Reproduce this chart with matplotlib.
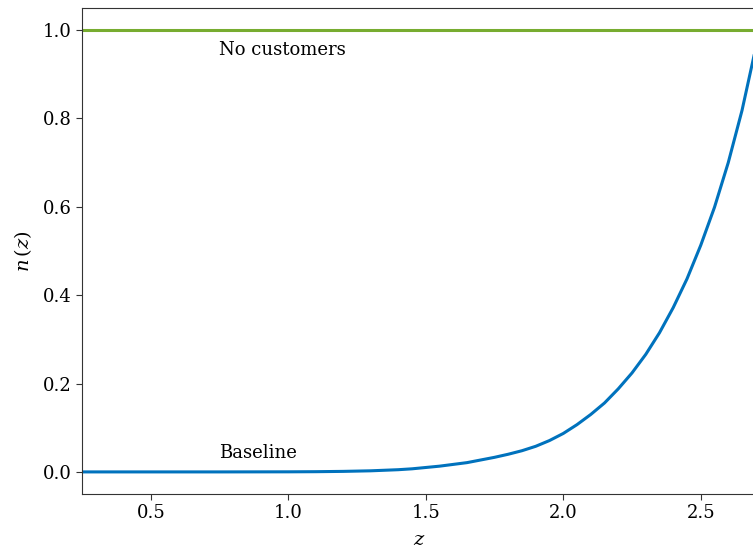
import numpy as np
import matplotlib
matplotlib.use("Agg")
import matplotlib.pyplot as plt

plt.rcParams['font.family'] = ['DejaVu Serif']
plt.rcParams['mathtext.fontset'] = 'dejavuserif'

# values
z_vals = [0.25, 0.5, 0.75, 1.0, 1.1, 1.2, 1.3, 1.4, 1.45, 1.5, 1.55, 1.6, 1.65,
          1.7, 1.75, 1.8, 1.85, 1.9, 1.95, 2.0, 2.05, 2.1, 2.15, 2.2, 2.25,
          2.3, 2.35, 2.4, 2.45, 2.5, 2.55, 2.6, 2.65, 2.7]
n_baseline = [0.0, 0.0, 0.0, 0.0002, 0.0005, 0.0012, 0.0025, 0.005, 0.007,
              0.010, 0.013, 0.017, 0.021, 0.027, 0.033, 0.040, 0.048, 0.058,
              0.071, 0.087, 0.107, 0.130, 0.156, 0.188, 0.224, 0.266, 0.315,
              0.372, 0.437, 0.513, 0.599, 0.700, 0.818, 0.960]
n_nocust = [1.0] * len(z_vals)

blue = '#0072BD'
green = '#77AC30'

fig = plt.figure(figsize=(7.53, 5.55), dpi=100)
ax = fig.add_axes([82/753, 61/555, 673.75/753, 486/555])

ax.plot(z_vals, n_nocust, color=green, lw=2.2)
ax.plot(z_vals, n_baseline, color=blue, lw=2.2)

ax.text(0.75, 0.955, 'No customers', fontsize=13, va='center', ha='left')
ax.text(0.75, 0.043, 'Baseline', fontsize=13, va='center', ha='left')

ax.set_xlim(0.25, 2.7)
ax.set_ylim(-0.05, 1.05)
ax.set_xticks([0.5, 1.0, 1.5, 2.0, 2.5])
ax.set_yticks([0.0, 0.2, 0.4, 0.6, 0.8, 1.0])
ax.tick_params(direction='out', length=4, labelsize=13, color='#333333')
for s in ['left', 'bottom', 'top']:
    ax.spines[s].set_color('#333333')
ax.spines['right'].set_visible(False)

ax.set_xlabel(r'$z$', fontsize=14, labelpad=6)
ax.set_ylabel(r'$n\,\left(z\right)$', fontsize=14, labelpad=6)

fig.savefig('out.png', dpi=100)
